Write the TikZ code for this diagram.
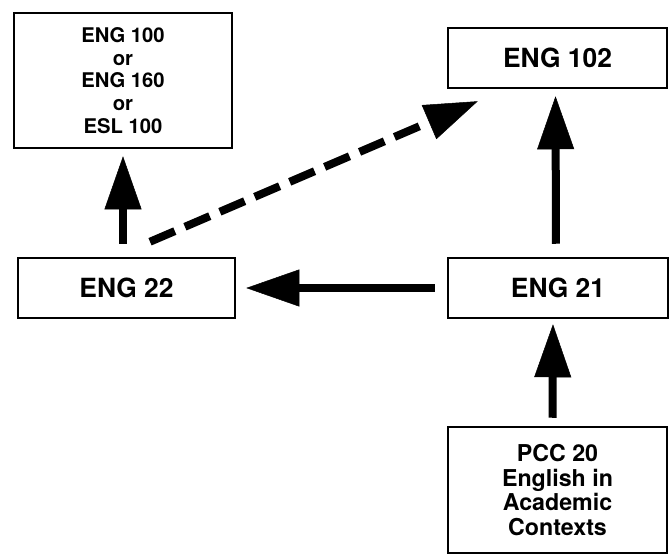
\documentclass[tikz,border=0pt]{standalone}
\usepackage{fontspec}
\setmainfont{TeX Gyre Heros}
\usetikzlibrary{arrows.meta,calc}
\begin{document}
\begin{tikzpicture}[x=1bp,y=-1bp,
  box/.style={draw=black, line width=2.5bp, fill=white, inner sep=0pt, align=center},
  bigtext/.style={font=\fontsize{26.5}{29}\selectfont\bfseries},
  arr/.style={line width=8bp, -{Triangle[length=53bp,width=37bp,line width=0.5bp]}},
]
\useasboundingbox (0,0) rectangle (669,560);
\node[box, minimum width=218bp, minimum height=135bp,
      font=\fontsize{20.3}{22.7}\selectfont\bfseries] (b1) at (123,80.5)
      {ENG 100\\or\\ENG 160\\or\\ESL 100};
\node[box, bigtext, minimum width=219bp, minimum height=60bp] (eng102) at (557.5,58) {ENG 102};
\node[box, bigtext, minimum width=217bp, minimum height=60bp] (eng22) at (126.5,288) {ENG 22};
\node[box, bigtext, minimum width=220bp, minimum height=60bp] (eng21) at (558,288) {ENG 21};
\node[box, minimum width=219bp, minimum height=126bp,
      font=\fontsize{23.3}{25}\selectfont\bfseries] (pcc) at (557.5,490)
      {PCC 20\\English in\\Academic\\Contexts};
\draw[arr, shorten <=13bp, shorten >=7bp] (b1.south |- eng22.north) -- (b1.south);
\draw[arr, shorten <=12bp, shorten >=10bp] (eng21.west) -- (eng22.east);
\draw[arr, shorten <=13bp, shorten >=7bp] ([xshift=-2bp]eng21.north) -- ([xshift=-2bp]eng102.south);
\draw[arr, shorten <=8bp, shorten >=5bp] ([xshift=-5bp]pcc.north) -- ([xshift=-5bp]eng21.south);
\coordinate (ds) at ($(eng22.north)+(23.5,-15)$);
\coordinate (de) at ($(eng102.south west)+(31,12)$);
\draw[arr, dash pattern=on 27bp off 11bp] (ds) -- (de);
\end{tikzpicture}
\end{document}
